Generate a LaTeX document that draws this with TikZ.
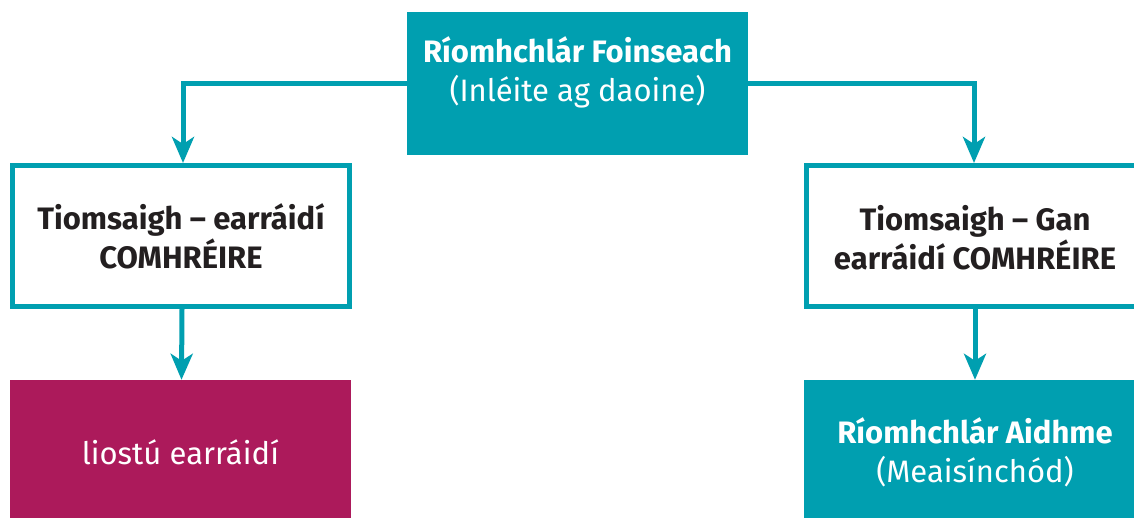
\documentclass[tikz,border=0pt]{standalone}
\usepackage{fontspec}
\setmainfont{Fira Sans}
\usetikzlibrary{arrows.meta}
\definecolor{teal}{HTML}{009FB0}
\definecolor{berry}{HTML}{AC1A5B}
\definecolor{ink}{HTML}{231F20}
\begin{document}
\begin{tikzpicture}[x=1pt,y=-1pt,
  fillbox/.style={fill=teal, draw=none, minimum width=341pt, minimum height=143pt, inner sep=0pt},
  outbox/.style={draw=teal, line width=5pt, fill=white, minimum width=337pt, minimum height=141pt, inner sep=0pt},
  txt/.style={align=center, font=\fontsize{31}{39}\selectfont, inner sep=0pt},
  btxt/.style={txt, text=ink, font=\fontsize{31}{39}\selectfont\bfseries},
  arr/.style={draw=teal, line width=5pt, -{Stealth[length=26pt,width=22pt,inset=7pt]}}]
\clip (0,0) rectangle (1134,518);
\useasboundingbox (0,0) rectangle (1134,518);
\fill[white] (0,0) rectangle (1134,518);
% boxes
\node[fillbox] (src) at (577.5,83.5) {};
\node[txt, text=white] (srct) at (577.5,72) {\textbf{Ríomhchlár Foinseach}\\(Inléite ag daoine)};
\node[outbox] (left) at (181,236) {};
\node[btxt] (leftt) at (181,236) {Tiomsaigh – earráidí\\COMHRÉIRE};
\node[outbox] (right) at (975,236) {};
\node[btxt] (rightt) at (975,238) {Tiomsaigh – Gan\\earráidí COMHRÉIRE};
\node[fill=berry, minimum width=341pt, minimum height=142pt, inner sep=0pt] (err) at (180.5,451) {};
\node[txt, text=white] (errt) at (180.5,452) {liostú earráidí};
\node[fill=teal, minimum width=342pt, minimum height=142pt, inner sep=0pt] (tgt) at (975,451) {};
\node[txt, text=white] (tgtt) at (975,452) {\textbf{Ríomhchlár Aidhme}\\(Meaisínchód)};
% connectors
\draw[arr] (src.west) -| ([xshift=2pt]left.north);
\draw[arr] (src.east) -| ([xshift=-1pt]right.north);
\draw[arr] ([xshift=1pt]left.south) -- ([xshift=1pt]err.north);
\draw[arr] (right.south) -- (tgt.north);
\end{tikzpicture}
\end{document}
